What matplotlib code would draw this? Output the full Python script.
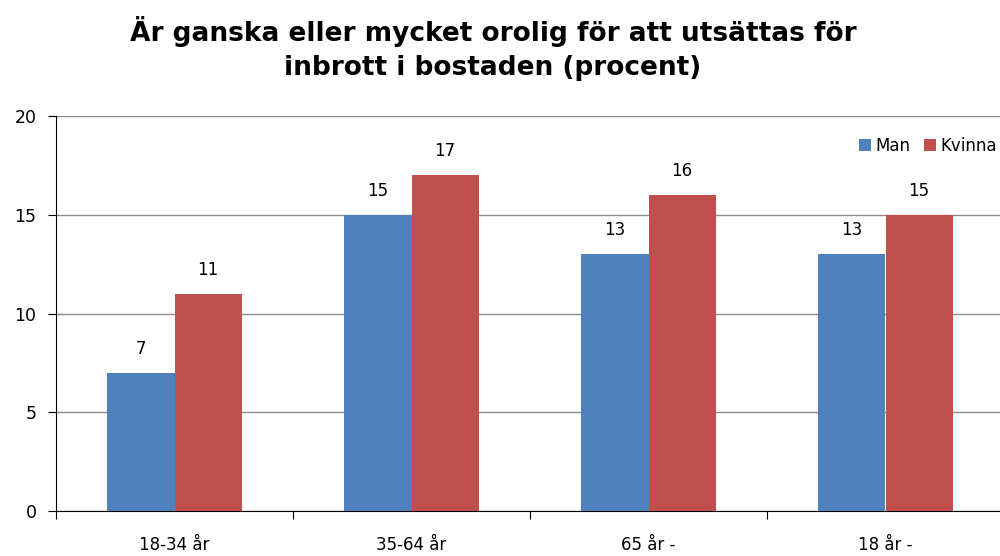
import matplotlib
matplotlib.use("Agg")
import matplotlib.pyplot as plt
import numpy as np

categories = ["18-34 år", "35-64 år", "65 år -", "18 år -"]
man = [7, 15, 13, 13]
kvinna = [11, 17, 16, 15]
series_names = ["Man", "Kvinna"]
colors = ["#4F81BD", "#C0504D"]
title = "Är ganska eller mycket orolig för att utsättas för\ninbrott i bostaden (procent)"

fig = plt.figure(figsize=(10, 5.56), dpi=100)
ax = fig.add_axes([0.056, 0.081, 0.948, 0.710])

x = np.arange(len(categories))
w = 0.283
b1 = ax.bar(x - w/2, man, w, color=colors[0], label=series_names[0], zorder=3)
b2 = ax.bar(x + w/2, kvinna, w, color=colors[1], label=series_names[1], zorder=3)
for bars in (b1, b2):
    for r in bars:
        ax.annotate(f"{int(r.get_height())}", (r.get_x() + r.get_width()/2, r.get_height()),
                    xytext=(0, 11), textcoords="offset points", ha="center", va="bottom",
                    fontsize=12, color="#000000")

ax.set_xlim(-0.5, len(categories) - 0.5)
ax.set_ylim(0, 20)
ax.set_yticks([0, 5, 10, 15, 20])
ax.yaxis.grid(True, color="#8C8C8C", linewidth=1, zorder=0)
ax.set_xticks(np.arange(len(categories) + 1) - 0.5)
ax.set_xticklabels([])
ax.set_xticks(x, minor=True)
ax.set_xticklabels(categories, minor=True, fontsize=12)
ax.tick_params(axis="x", which="minor", length=0, pad=18)
ax.tick_params(axis="x", which="major", length=6, direction="out", color="#000000")
ax.tick_params(axis="y", length=6, direction="out", labelsize=12.5, pad=8)
for s in ["top", "right"]:
    ax.spines[s].set_visible(False)
ax.spines["left"].set_color("#000000")
ax.spines["bottom"].set_color("#000000")

leg = ax.legend(loc="upper right", bbox_to_anchor=(1.0, 0.965), ncol=2, frameon=False,
                fontsize=12, handlelength=0.7, handleheight=0.7, handletextpad=0.3,
                columnspacing=0.8, borderaxespad=0)

fig.text(0.493, 0.972, title, ha="center", va="top", fontsize=19, fontweight="bold",
         linespacing=1.4)

fig.savefig("out.png", dpi=100)
